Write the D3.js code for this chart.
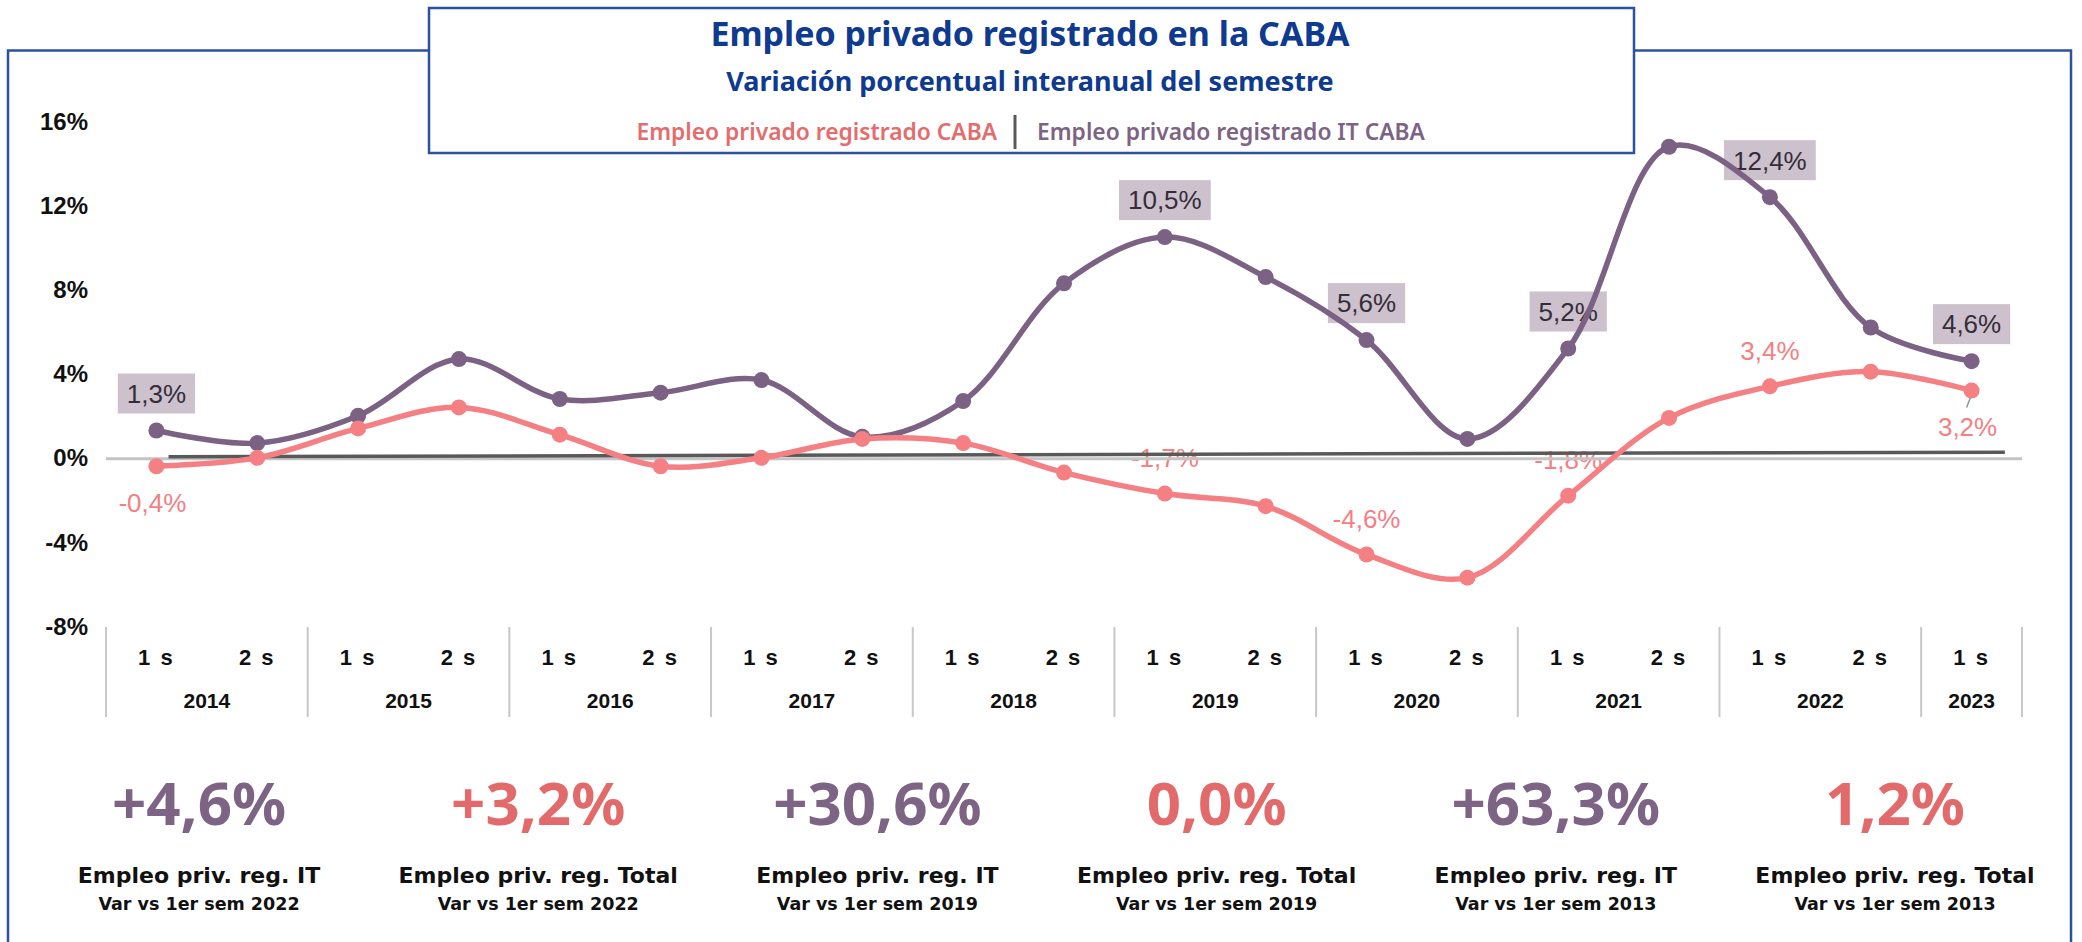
<!DOCTYPE html>
<html>
<head>
<meta charset="utf-8">
<script src="https://cdnjs.cloudflare.com/ajax/libs/d3/7.8.5/d3.min.js"></script>
<style>
  body { margin: 0; background: #ffffff; }
  svg  { display: block; }
</style>
</head>
<body>
<div id="chart"></div>
<script>
////////////////////////////////////////////////////////////////////////
//
// Chart data
//
////////////////////////////////////////////////////////////////////////
var years      = ["2014", "2015", "2016", "2017", "2018", "2019", "2020", "2021", "2022", "2023"];
var semesters  = ["1 s", "2 s", "1 s", "2 s", "1 s", "2 s", "1 s", "2 s", "1 s", "2 s",
                  "1 s", "2 s", "1 s", "2 s", "1 s", "2 s", "1 s", "2 s", "1 s"];
var semYears   = ["2014", "2014", "2015", "2015", "2016", "2016", "2017", "2017", "2018", "2018",
                  "2019", "2019", "2020", "2020", "2021", "2021", "2022", "2022", "2023"];

var empleoIT    = [1.3, 0.7, 2.0, 4.7, 2.8, 3.1, 3.7, 1.0, 2.7, 8.3, 10.5, 8.6, 5.6, 0.9, 5.2, 14.8, 12.4, 6.2, 4.6];
var empleoTotal = [-0.4, 0.0, 1.4, 2.4, 1.1, -0.4, 0.0, 0.9, 0.7, -0.7, -1.7, -2.3, -4.6, -5.7, -1.8, 1.9, 3.4, 4.1, 3.2];

var labeledIT      = [0, 10, 12, 14, 16, 18];
var labeledTotal   = [0, 10, 12, 14, 16, 18];
var totalBelow     = [0, 18];

// hand drawn dark reference line across zero (index, value)
var zeroRefLine = [[0.12, 0.05], [18.33, 0.27]];

var yTicks = [16, 12, 8, 4, 0, -4, -8];

var kpiValues = ["+4,6%", "+3,2%", "+30,6%", "0,0%", "+63,3%", "1,2%"];
var kpiSeries = ["it", "total", "it", "total", "it", "total"];
var kpiTitles = ["Empleo priv. reg. IT", "Empleo priv. reg. Total", "Empleo priv. reg. IT",
                 "Empleo priv. reg. Total", "Empleo priv. reg. IT", "Empleo priv. reg. Total"];
var kpiSubs   = ["Var vs 1er sem 2022", "Var vs 1er sem 2022", "Var vs 1er sem 2019",
                 "Var vs 1er sem 2019", "Var vs 1er sem 2013", "Var vs 1er sem 2013"];


////////////////////////////////////////////////////////////////////////
//
// Styles
//
////////////////////////////////////////////////////////////////////////
var W = 2082, H = 942;
var colIT     = "#7b6183";
var colTotal  = "#f48084";
var colKpiIT  = "#7d6384";
var colKpiTot = "#e36a6a";
var colBlue   = "#0e3a8f";
var colFrame  = "#2a52a0";
var narrow    = "'Liberation Sans', Arial, sans-serif";
var noto      = "'Noto Sans', sans-serif";
var dejavu    = "'DejaVu Sans', Verdana, sans-serif";


////////////////////////////////////////////////////////////////////////
//
// Build chart
//
////////////////////////////////////////////////////////////////////////
function init()
    {
    var svg = d3.select("#chart").append("svg")
        .attr("width", W)
        .attr("height", H);

    svg.append("rect").attr("width", W).attr("height", H).attr("fill", "#fff");

    //Outer frame
    svg.append("rect")
        .attr("x", 8).attr("y", 50.5)
        .attr("width", 2063).attr("height", 1000)
        .attr("fill", "none")
        .attr("stroke", colFrame)
        .attr("stroke-width", 2.5);

    var keys = semesters.map((s, i) => i);

    var x = d3.scaleBand().domain(keys).range([106, 2022]);
    var xi = d3.scaleLinear().domain([-0.5, 18.5]).range([106, 2022]);
    var y = d3.scaleLinear().domain([-8, 16]).range([626, 121.5]);
    var cx = i => x(i) + x.bandwidth() / 2;

    drawAxes(svg, x, y, cx, keys);
    drawLabels(svg, y, cx);

    //Zero axis and the darker reference line
    svg.append("line")
        .attr("x1", xi(-0.5)).attr("x2", xi(18.5))
        .attr("y1", y(0) + 1).attr("y2", y(0) + 1)
        .attr("stroke", "#c4c4c4")
        .attr("stroke-width", 3);

    svg.append("line")
        .attr("x1", xi(zeroRefLine[0][0])).attr("y1", y(zeroRefLine[0][1]))
        .attr("x2", xi(zeroRefLine[1][0])).attr("y2", y(zeroRefLine[1][1]))
        .attr("stroke", "#595959")
        .attr("stroke-width", 3.5);

    drawSeries(svg, empleoIT, colIT, y, cx);
    drawSeries(svg, empleoTotal, colTotal, y, cx);

    drawHeader(svg);
    drawKpis(svg);
    }



////////////////////////////////////////////////////////////////////////
//
// Y ticks and two level category axis
//
////////////////////////////////////////////////////////////////////////
function drawAxes(svg, x, y, cx, keys)
    {
    svg.append("g").selectAll("text")
        .data(yTicks)
        .enter().append("text")
        .attr("x", 88)
        .attr("y", d => y(d))
        .attr("dy", "0.36em")
        .attr("text-anchor", "end")
        .style("font-family", narrow)
        .style("font-weight", "bold")
        .style("font-size", "24px")
        .attr("fill", "#111")
        .text(d => d + "%");

    //semester labels
    svg.append("g").selectAll("text")
        .data(keys)
        .enter().append("text")
        .attr("x", d => cx(d))
        .attr("y", 665)
        .attr("text-anchor", "middle")
        .style("font-family", narrow)
        .style("font-weight", "bold")
        .style("font-size", "22px")
        .style("letter-spacing", "2px")
        .attr("fill", "#111")
        .text(d => semesters[d]);

    //year labels and separators
    var groups = years.map(yr =>
        {
        var idx = keys.filter(k => semYears[k] === yr);
        return {year: yr, first: idx[0], last: idx[idx.length - 1]};
        });

    svg.append("g").selectAll("text")
        .data(groups)
        .enter().append("text")
        .attr("x", d => (x(d.first) + x(d.last) + x.bandwidth()) / 2)
        .attr("y", 708)
        .attr("text-anchor", "middle")
        .style("font-family", narrow)
        .style("font-weight", "bold")
        .style("font-size", "21px")
        .attr("fill", "#111")
        .text(d => d.year);

    var seps = groups.map(d => x(d.first));
    seps.push(x(groups[groups.length - 1].last) + x.bandwidth());

    svg.append("g").selectAll("line")
        .data(seps)
        .enter().append("line")
        .attr("x1", d => d).attr("x2", d => d)
        .attr("y1", 627).attr("y2", 717)
        .attr("stroke", "#c8c8c8")
        .attr("stroke-width", 2);
    }



////////////////////////////////////////////////////////////////////////
//
// Data labels (drawn under the lines, as in the original)
//
////////////////////////////////////////////////////////////////////////
function fmt(v)
    {
    return d3.format(".1f")(v).replace(".", ",").replace("−", "-") + "%";
    }

function drawLabels(svg, y, cx)
    {
    var gIT = svg.append("g");

    labeledIT.forEach(i =>
        {
        var g = gIT.append("g");
        var t = g.append("text")
            .attr("x", cx(i))
            .attr("y", y(empleoIT[i]) - 37)
            .attr("dy", "0.36em")
            .attr("text-anchor", "middle")
            .style("font-family", narrow)
            .style("font-size", "26px")
            .attr("fill", "#352d3a")
            .text(fmt(empleoIT[i]));

        var w = t.node().getComputedTextLength() + 18;
        g.insert("rect", "text")
            .attr("x", cx(i) - w / 2)
            .attr("y", y(empleoIT[i]) - 37 - 20)
            .attr("width", w)
            .attr("height", 40)
            .attr("fill", "#ccc1cc");
        });

    var gT = svg.append("g");

    labeledTotal.forEach(i =>
        {
        var below = totalBelow.indexOf(i) >= 0;
        var ly = below ? y(empleoTotal[i]) + 36 : y(empleoTotal[i]) - 36;

        gT.append("text")
            .attr("x", cx(i) - (below ? 4 : 0))
            .attr("y", ly)
            .attr("dy", "0.36em")
            .attr("text-anchor", "middle")
            .style("font-family", narrow)
            .style("font-size", "26px")
            .attr("fill", colTotal)
            .text(fmt(empleoTotal[i]));

        //little leader line on the last label
        if(below && i === empleoTotal.length - 1)
            {
            gT.append("line")
                .attr("x1", cx(i)).attr("y1", y(empleoTotal[i]) + 4)
                .attr("x2", cx(i) - 5).attr("y2", y(empleoTotal[i]) + 17)
                .attr("stroke", "#7f9e9e")
                .attr("stroke-width", 1.5);
            }
        });
    }



////////////////////////////////////////////////////////////////////////
//
// Smoothed line with markers
//
////////////////////////////////////////////////////////////////////////
function drawSeries(svg, values, color, y, cx)
    {
    var line = d3.line()
        .x((d, i) => cx(i))
        .y(d => y(d))
        .curve(d3.curveCatmullRom.alpha(0.5));

    var g = svg.append("g");

    g.append("path")
        .datum(values)
        .attr("d", line)
        .attr("fill", "none")
        .attr("stroke", color)
        .attr("stroke-width", 5.5)
        .attr("stroke-linejoin", "round");

    g.selectAll("circle")
        .data(values)
        .enter().append("circle")
        .attr("cx", (d, i) => cx(i))
        .attr("cy", d => y(d))
        .attr("r", 8)
        .attr("fill", color);
    }



////////////////////////////////////////////////////////////////////////
//
// Title box with legend
//
////////////////////////////////////////////////////////////////////////
function drawHeader(svg)
    {
    svg.append("rect")
        .attr("x", 429).attr("y", 8)
        .attr("width", 1205).attr("height", 145)
        .attr("fill", "#fff")
        .attr("stroke", colFrame)
        .attr("stroke-width", 2.5);

    svg.append("text")
        .attr("x", 1030).attr("y", 46)
        .attr("text-anchor", "middle")
        .style("font-family", noto)
        .style("font-weight", "bold")
        .style("font-size", "34px")
        .attr("fill", colBlue)
        .text("Empleo privado registrado en la CABA");

    svg.append("text")
        .attr("x", 1030).attr("y", 91)
        .attr("text-anchor", "middle")
        .style("font-family", noto)
        .style("font-weight", "bold")
        .style("font-size", "27px")
        .attr("fill", colBlue)
        .text("Variación porcentual interanual del semestre");

    svg.append("text")
        .attr("x", 997).attr("y", 140)
        .attr("text-anchor", "end")
        .style("font-family", noto)
        .style("font-weight", "600")
        .style("font-size", "22.8px")
        .attr("fill", "#e46c6c")
        .text("Empleo privado registrado CABA");

    svg.append("line")
        .attr("x1", 1015).attr("x2", 1015)
        .attr("y1", 115).attr("y2", 149)
        .attr("stroke", "#595959")
        .attr("stroke-width", 3);

    svg.append("text")
        .attr("x", 1037).attr("y", 140)
        .style("font-family", noto)
        .style("font-weight", "600")
        .style("font-size", "22.8px")
        .attr("fill", colKpiIT)
        .text("Empleo privado registrado IT CABA");
    }



////////////////////////////////////////////////////////////////////////
//
// Bottom summary figures
//
////////////////////////////////////////////////////////////////////////
function drawKpis(svg)
    {
    var kx = d3.scalePoint().domain(d3.range(kpiValues.length)).range([199, 1895]);

    var g = svg.append("g").selectAll("g")
        .data(kpiValues)
        .enter().append("g")
        .attr("transform", (d, i) => "translate(" + kx(i) + ",0)");

    g.append("text")
        .attr("y", 825)
        .attr("text-anchor", "middle")
        .style("font-family", noto)
        .style("font-weight", "bold")
        .style("font-size", "60px")
        .attr("fill", (d, i) => kpiSeries[i] === "it" ? colKpiIT : colKpiTot)
        .text(d => d);

    g.append("text")
        .attr("y", 883)
        .attr("text-anchor", "middle")
        .style("font-family", dejavu)
        .style("font-weight", "bold")
        .style("font-size", "22px")
        .attr("fill", "#111")
        .text((d, i) => kpiTitles[i]);

    g.append("text")
        .attr("y", 910)
        .attr("text-anchor", "middle")
        .style("font-family", dejavu)
        .style("font-weight", "bold")
        .style("font-size", "17.5px")
        .attr("fill", "#111")
        .text((d, i) => kpiSubs[i]);
    }


init();
</script>
</body>
</html>
